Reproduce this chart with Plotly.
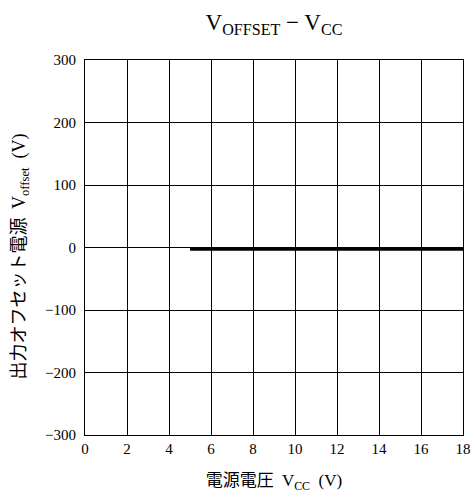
import plotly.graph_objects as go

# Offset output voltage versus supply voltage
vcc = [5, 18]
v_offset = [-3, -3]

x_ticks = [0, 2, 4, 6, 8, 10, 12, 14, 16, 18]
y_ticks = [-300, -200, -100, 0, 100, 200, 300]

SERIF = "Liberation Serif"
JP = "Noto Sans CJK JP"


def serif(s):
    return '<span style="font-family:\'Liberation Serif\'">' + s + "</span>"


fig = go.Figure()
fig.add_trace(go.Scatter(
    x=vcc, y=v_offset, mode="lines",
    line=dict(color="black", width=2.6),
    showlegend=False, hoverinfo="skip",
))

fig.update_layout(
    template="none",
    width=471, height=497,
    margin=dict(l=85, r=8, t=60, b=62),
    paper_bgcolor="white", plot_bgcolor="white",
    font=dict(family=SERIF, size=15, color="black"),
    title=dict(
        text="V<sub>OFFSET</sub> − V<sub>CC</sub>",
        xref="paper", x=0.5, xanchor="center", y=0.955, yanchor="middle",
        font=dict(family=SERIF, size=23, color="black"),
    ),
    xaxis=dict(
        range=[0, 18], tickmode="array", tickvals=x_ticks,
        ticktext=[str(v) for v in x_ticks],
        ticklabeloverflow="allow",
        showline=True, mirror=True, linecolor="black", linewidth=1,
        showgrid=True, gridcolor="black", gridwidth=1,
        zeroline=False, ticks="",
        tickfont=dict(family=SERIF, size=15, color="black"),
        title=dict(
            text="電源電圧 " + serif("&nbsp;V<sub>CC</sub>&nbsp;&nbsp;(V)"),
            font=dict(family=JP, size=17, color="black"), standoff=18,
        ),
    ),
    yaxis=dict(
        range=[-300, 300], tickmode="array", tickvals=y_ticks,
        ticktext=[("−" + str(-v)) if v < 0 else str(v) for v in y_ticks],
        ticklabelstandoff=5,
        showline=True, mirror=True, linecolor="black", linewidth=1,
        showgrid=True, gridcolor="black", gridwidth=1,
        zeroline=False, ticks="",
        tickfont=dict(family=SERIF, size=15, color="black"),
        title=dict(
            text="出力オフセット電源 " + serif("&nbsp;V<sub>offset</sub>&nbsp;&nbsp;(V)&nbsp;&nbsp;&nbsp;&nbsp;"),
            font=dict(family=JP, size=18, color="black"), standoff=14,
        ),
    ),
)

fig.write_html("out.html")
